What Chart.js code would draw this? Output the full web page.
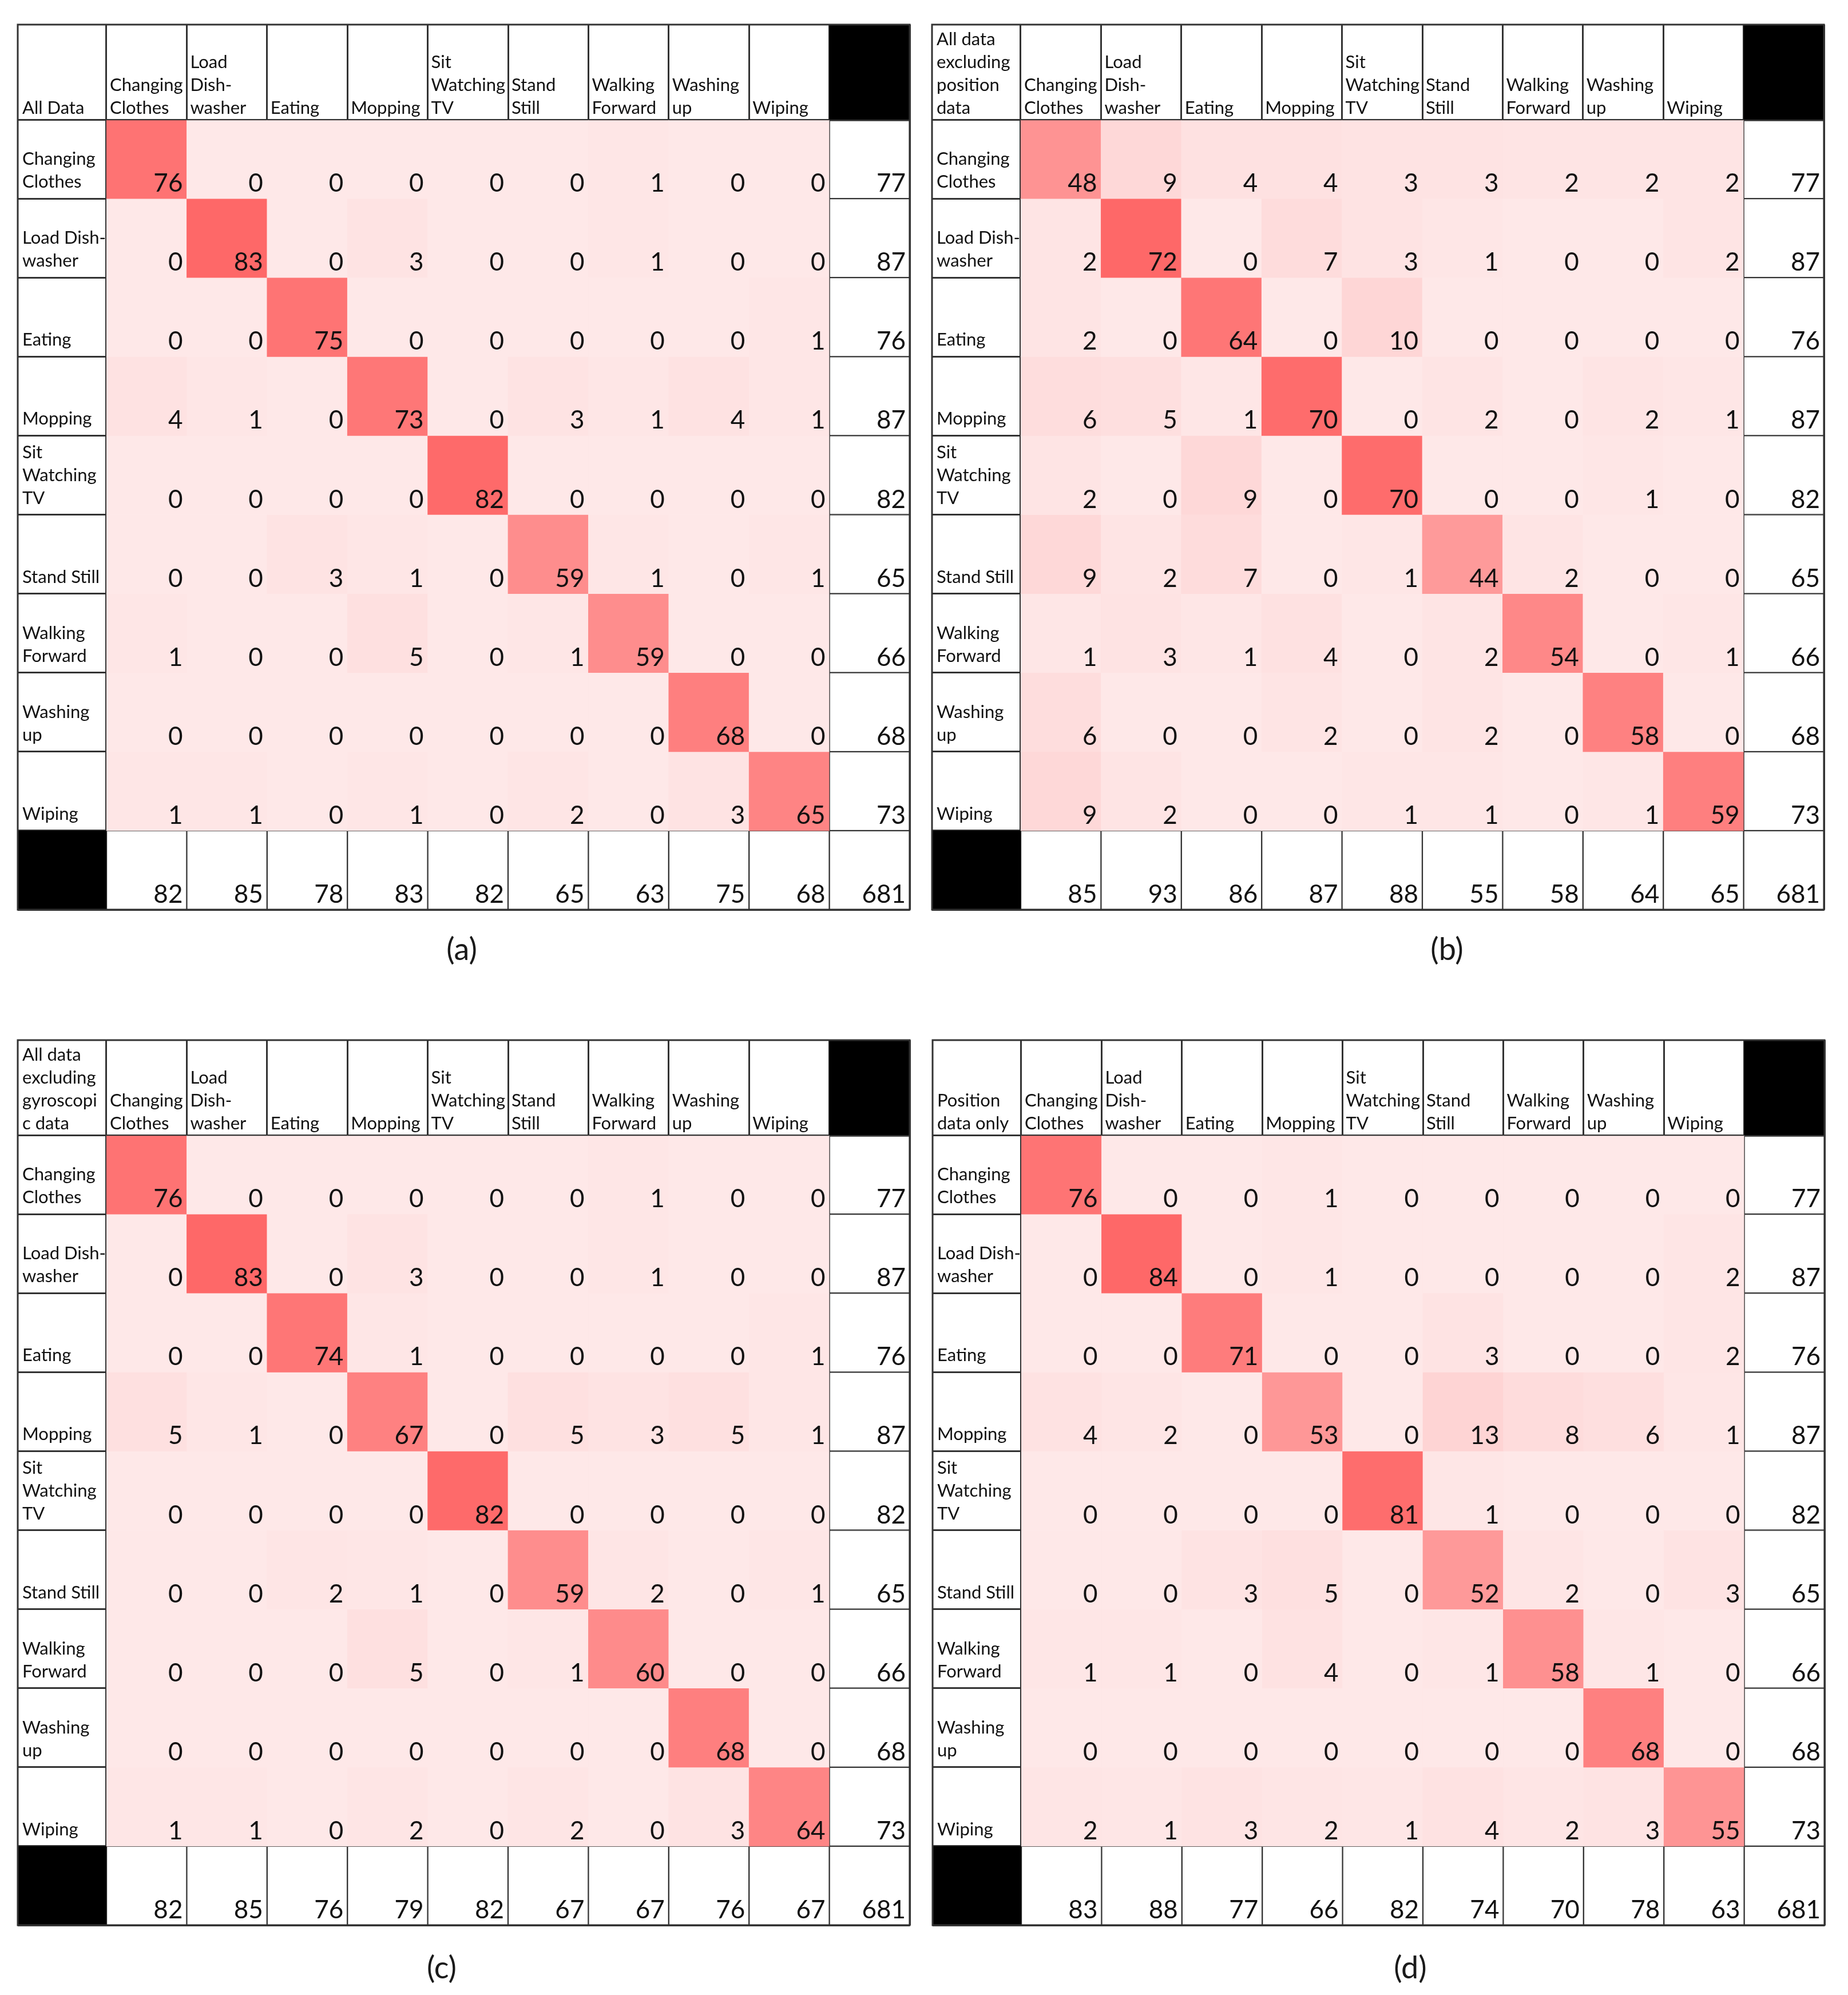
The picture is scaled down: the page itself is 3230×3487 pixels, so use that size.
<!DOCTYPE html>
<html>
<head>
<meta charset="utf-8">
<script src="https://cdn.jsdelivr.net/npm/chart.js@4.4.1/dist/chart.umd.min.js"></script>
<style>
  html, body { margin: 0; padding: 0; background: #fff; }
  body { width: 3230px; height: 3487px; position: relative; overflow: hidden; font-family: Lato, sans-serif; }
  canvas.panel { position: absolute; }
  .cap { position: absolute; font-size: 54px; color: #1a1a1a; transform: translate(-50%, -50%); white-space: nowrap; }
</style>
</head>
<body>
<canvas id="cmA" class="panel"></canvas>
<canvas id="cmB" class="panel"></canvas>
<canvas id="cmC" class="panel"></canvas>
<canvas id="cmD" class="panel"></canvas>
<div class="cap" style="left:807px; top:1657px">(a)</div>
<div class="cap" style="left:2529px; top:1657px">(b)</div>
<div class="cap" style="left:772px; top:3437px">(c)</div>
<div class="cap" style="left:2465px; top:3437px">(d)</div>

<script>
// ---- data ----
const classes = ['Changing Clothes', 'Load Dish-washer', 'Eating', 'Mopping', 'Sit Watching TV',
                 'Stand Still', 'Walking Forward', 'Washing up', 'Wiping'];
const colHeaderLines = [['Changing', 'Clothes'], ['Load', 'Dish-', 'washer'], ['Eating'], ['Mopping'],
                        ['Sit', 'Watching', 'TV'], ['Stand', 'Still'], ['Walking', 'Forward'], ['Washing', 'up'], ['Wiping']];
const rowHeaderLines = [['Changing', 'Clothes'], ['Load Dish-', 'washer'], ['Eating'], ['Mopping'],
                        ['Sit', 'Watching', 'TV'], ['Stand Still'], ['Walking', 'Forward'], ['Washing', 'up'], ['Wiping']];

const titleA = ['All Data'];
const titleB = ['All data', 'excluding', 'position', 'data'];
const titleC = ['All data', 'excluding', 'gyroscopi', 'c data'];
const titleD = ['Position', 'data only'];

const confA = [
  [76, 0, 0, 0, 0, 0, 1, 0, 0],
  [0, 83, 0, 3, 0, 0, 1, 0, 0],
  [0, 0, 75, 0, 0, 0, 0, 0, 1],
  [4, 1, 0, 73, 0, 3, 1, 4, 1],
  [0, 0, 0, 0, 82, 0, 0, 0, 0],
  [0, 0, 3, 1, 0, 59, 1, 0, 1],
  [1, 0, 0, 5, 0, 1, 59, 0, 0],
  [0, 0, 0, 0, 0, 0, 0, 68, 0],
  [1, 1, 0, 1, 0, 2, 0, 3, 65]
];
const rowTotalsA = [77, 87, 76, 87, 82, 65, 66, 68, 73];
const colTotalsA = [82, 85, 78, 83, 82, 65, 63, 75, 68];

const confB = [
  [48, 9, 4, 4, 3, 3, 2, 2, 2],
  [2, 72, 0, 7, 3, 1, 0, 0, 2],
  [2, 0, 64, 0, 10, 0, 0, 0, 0],
  [6, 5, 1, 70, 0, 2, 0, 2, 1],
  [2, 0, 9, 0, 70, 0, 0, 1, 0],
  [9, 2, 7, 0, 1, 44, 2, 0, 0],
  [1, 3, 1, 4, 0, 2, 54, 0, 1],
  [6, 0, 0, 2, 0, 2, 0, 58, 0],
  [9, 2, 0, 0, 1, 1, 0, 1, 59]
];
const rowTotalsB = [77, 87, 76, 87, 82, 65, 66, 68, 73];
const colTotalsB = [85, 93, 86, 87, 88, 55, 58, 64, 65];

const confC = [
  [76, 0, 0, 0, 0, 0, 1, 0, 0],
  [0, 83, 0, 3, 0, 0, 1, 0, 0],
  [0, 0, 74, 1, 0, 0, 0, 0, 1],
  [5, 1, 0, 67, 0, 5, 3, 5, 1],
  [0, 0, 0, 0, 82, 0, 0, 0, 0],
  [0, 0, 2, 1, 0, 59, 2, 0, 1],
  [0, 0, 0, 5, 0, 1, 60, 0, 0],
  [0, 0, 0, 0, 0, 0, 0, 68, 0],
  [1, 1, 0, 2, 0, 2, 0, 3, 64]
];
const rowTotalsC = [77, 87, 76, 87, 82, 65, 66, 68, 73];
const colTotalsC = [82, 85, 76, 79, 82, 67, 67, 76, 67];

const confD = [
  [76, 0, 0, 1, 0, 0, 0, 0, 0],
  [0, 84, 0, 1, 0, 0, 0, 0, 2],
  [0, 0, 71, 0, 0, 3, 0, 0, 2],
  [4, 2, 0, 53, 0, 13, 8, 6, 1],
  [0, 0, 0, 0, 81, 1, 0, 0, 0],
  [0, 0, 3, 5, 0, 52, 2, 0, 3],
  [1, 1, 0, 4, 0, 1, 58, 1, 0],
  [0, 0, 0, 0, 0, 0, 0, 68, 0],
  [2, 1, 3, 2, 1, 4, 2, 3, 55]
];
const rowTotalsD = [77, 87, 76, 87, 82, 65, 66, 68, 73];
const colTotalsD = [83, 88, 77, 66, 82, 74, 70, 78, 63];

const grandTotal = 681;

// ---- look ----
const LINE = '#333333';
const LW = 3;
const PAD = 6;
const HEAD_W = 155, HEAD_H = 166;
const TABLE_W = 1559, TABLE_H = 1547;
const TEXT = '#111111';

function cellColor(v, max) {
  const t = max ? v / max : 0;
  const g = Math.round(232 - t * (232 - 104));
  return `rgb(254,${g},${g})`;
}

const tablePlugin = {
  id: 'tableText',
  afterDraw(chart) {
    const cfg = chart.options.plugins.tableText;
    const ctx = chart.ctx;
    const xs = chart.scales.x, ys = chart.scales.y;
    const area = chart.chartArea;
    const left = ys.left, top = xs.top;
    const colEl = chart.getDatasetMeta(0).data;
    const nRows = chart.data.datasets.length;

    ctx.save();
    // black corner cells
    const lastCol = colEl[colEl.length - 1];
    ctx.fillStyle = '#000';
    ctx.fillRect(lastCol.x - lastCol.width / 2, top, lastCol.width, area.top - top);
    const y9 = ys.getPixelForValue(nRows - 1), y10 = ys.getPixelForValue(nRows);
    ctx.fillRect(left, Math.min(y9, y10), area.left - left, Math.abs(y10 - y9));

    // outer frame
    ctx.strokeStyle = LINE;
    ctx.lineWidth = LW;
    ctx.strokeRect(left, top, area.right - left, area.bottom - top);

    // header texts
    ctx.fillStyle = TEXT;
    ctx.textAlign = 'left';
    ctx.textBaseline = 'alphabetic';
    ctx.font = '31px Lato';
    const step = 40;
    cfg.title.forEach((s, k) => {
      ctx.fillText(s, left + 8, area.top - 10 - (cfg.title.length - 1 - k) * step);
    });
    colHeaderLines.forEach((lines, i) => {
      const el = colEl[i];
      lines.forEach((s, k) => {
        ctx.fillText(s, el.x - el.width / 2 + 6, area.top - 10 - (lines.length - 1 - k) * step);
      });
    });
    rowHeaderLines.forEach((lines, r) => {
      const yb = Math.max(ys.getPixelForValue(r), ys.getPixelForValue(r + 1));
      lines.forEach((s, k) => {
        ctx.fillText(s, left + 8, yb - 19 - (lines.length - 1 - k) * step);
      });
    });

    // cell numbers
    ctx.textAlign = 'right';
    ctx.font = '44px Lato';
    chart.data.datasets.forEach((ds, r) => {
      chart.getDatasetMeta(r).data.forEach((el, j) => {
        const bottom = Math.max(el.y, el.base);
        ctx.fillText(String(ds.values[j]), el.x + el.width / 2 - 7, bottom - 12);
      });
    });
    ctx.restore();
  }
};

function makePanel(id, x0, y0, title, conf, rowTotals, colTotals) {
  const canvas = document.getElementById(id);
  canvas.width = TABLE_W + 2 * PAD;
  canvas.height = TABLE_H + 2 * PAD;
  canvas.style.left = (x0 - PAD) + 'px';
  canvas.style.top = (y0 - PAD) + 'px';

  const labels = classes.concat(['Total']);
  const maxVal = Math.max(...conf.flat());
  const rows = conf.map((row, r) => row.concat([rowTotals[r]]));
  rows.push(colTotals.concat([grandTotal]));

  const datasets = rows.map((vals, r) => {
    const isTotRow = r === rows.length - 1;
    return {
      data: vals.map(() => [r, r + 1]),
      values: vals,
      backgroundColor: vals.map((v, j) => (isTotRow || j === vals.length - 1) ? '#ffffff' : cellColor(v, maxVal)),
      borderColor: LINE,
      borderWidth: vals.map((v, j) => (isTotRow || j === vals.length - 1) ? LW / 2 : 0),
      borderSkipped: false,
      grouped: false,
      barPercentage: 1,
      categoryPercentage: 1
    };
  });

  const gridCol = (c) => (c.index === undefined || c.index === 0 || c.index === labels.length - 1) ? LINE : 'rgba(0,0,0,0)';

  return new Chart(canvas, {
    type: 'bar',
    data: { labels, datasets },
    plugins: [tablePlugin],
    options: {
      responsive: false,
      devicePixelRatio: 1,
      animation: false,
      layout: { padding: PAD },
      plugins: {
        legend: { display: false },
        tooltip: { enabled: false },
        tableText: { title }
      },
      scales: {
        x: {
          type: 'category',
          position: 'top',
          offset: true,
          z: 1,
          ticks: { display: false },
          grid: {
            offset: true,
            color: gridCol,
            lineWidth: LW,
            drawTicks: true,
            tickLength: HEAD_H,
            tickColor: LINE,
            tickWidth: LW
          },
          border: { display: true, color: LINE, width: LW },
          afterFit: (s) => { s.height = HEAD_H; }
        },
        y: {
          type: 'linear',
          min: 0,
          max: rows.length,
          reverse: true,
          z: 1,
          ticks: { display: false, stepSize: 1, maxTicksLimit: 30 },
          grid: {
            color: (c) => (c.tick && (c.tick.value === 0 || c.tick.value === rows.length - 1 || c.tick.value === rows.length)) ? LINE : 'rgba(0,0,0,0)',
            lineWidth: LW,
            drawTicks: true,
            tickLength: HEAD_W,
            tickColor: LINE,
            tickWidth: LW
          },
          border: { display: true, color: LINE, width: LW },
          afterFit: (s) => { s.width = HEAD_W; }
        }
      }
    }
  });
}

makePanel('cmA', 31, 43, titleA, confA, rowTotalsA, colTotalsA);
makePanel('cmB', 1629, 43, titleB, confB, rowTotalsB, colTotalsB);
makePanel('cmC', 31, 1818, titleC, confC, rowTotalsC, colTotalsC);
makePanel('cmD', 1630, 1818, titleD, confD, rowTotalsD, colTotalsD);
</script>
</body>
</html>
